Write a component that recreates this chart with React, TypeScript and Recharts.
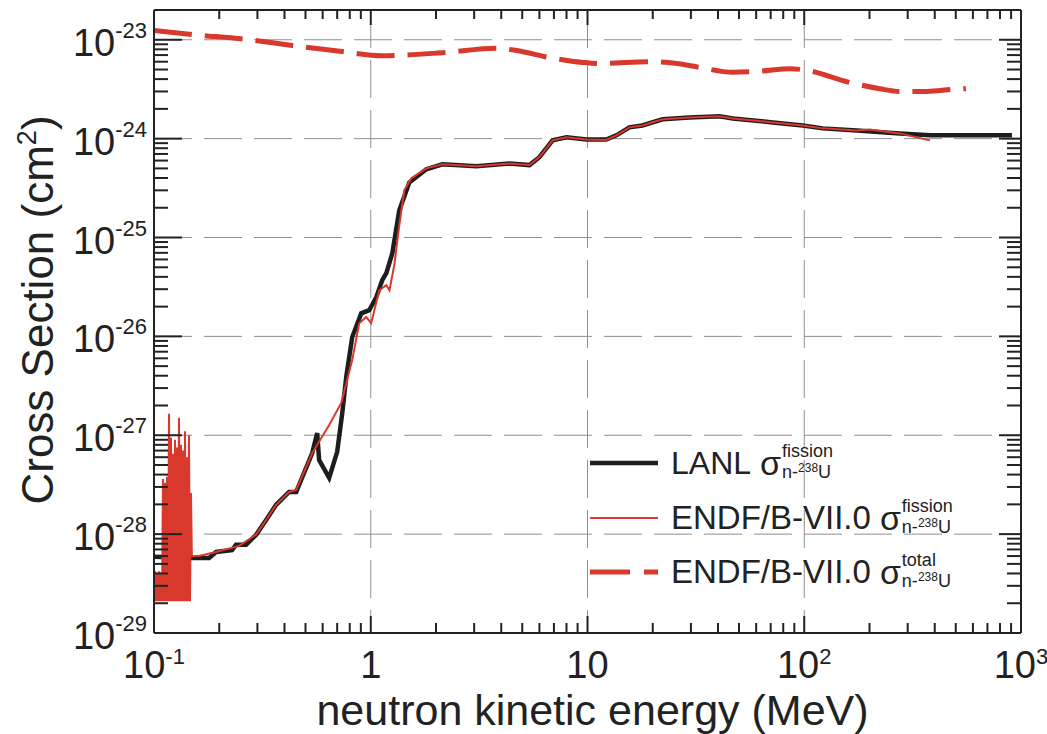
import { LineChart, Line, XAxis, YAxis, CartesianGrid, Legend } from 'recharts'

const FONT = '"Liberation Sans", Arial, Helvetica, sans-serif'
const RED = '#d8392c'
const BLACK = '#1d1d1d'
const INK = '#222'

// neutron energy in MeV, cross section in cm^2

// LANL fission
const lanlE = [
  0.1, 0.148, 0.1795, 0.1934, 0.229, 0.239, 0.266, 0.296, 0.329, 0.366, 0.42, 0.453, 0.537, 0.566, 0.578,
  0.643, 0.7, 0.739, 0.771, 0.821, 0.904, 0.984, 1.06, 1.13, 1.18, 1.257, 1.354, 1.506, 1.804, 2.14, 3.07,
  4.36, 5.4, 6.0, 6.9, 8.0, 9.9, 12.2, 13.6, 15.6, 17.9, 22.2, 29.6, 40.7, 46.8, 71.6, 98.5, 121.7, 175,
  276, 380, 908,
]
const lanlSigma = [
  5.9e-29, 5.75e-29, 5.75e-29, 6.6e-29, 6.9e-29, 7.8e-29, 7.8e-29, 9.85e-29, 1.39e-28, 1.98e-28, 2.67e-28,
  2.67e-28, 6.6e-28, 1.05e-27, 5.6e-28, 3.7e-28, 6.8e-28, 1.68e-27, 3.9e-27, 9.8e-27, 1.71e-26, 1.84e-26,
  2.49e-26, 3.7e-26, 4.36e-26, 6.9e-26, 1.88e-25, 3.6e-25, 4.9e-25, 5.5e-25, 5.25e-25, 5.6e-25, 5.4e-25,
  6.5e-25, 9.6e-25, 1.03e-24, 9.8e-25, 9.8e-25, 1.08e-24, 1.3e-24, 1.36e-24, 1.57e-24, 1.64e-24, 1.68e-24,
  1.6e-24, 1.46e-24, 1.36e-24, 1.27e-24, 1.21e-24, 1.13e-24, 1.08e-24, 1.08e-24,
]

// ENDF/B-VII.0 fission, resonance-like spikes just above 0.1 MeV
const endfLowE = [
  0.1, 0.1011, 0.1022, 0.1032, 0.1043, 0.1054, 0.1066, 0.1077, 0.1089, 0.11, 0.1112, 0.1124, 0.1136,
  0.1148, 0.116, 0.1173, 0.1185, 0.1198, 0.1211, 0.1224, 0.1237, 0.125, 0.1263, 0.1277, 0.129, 0.1304,
  0.1318, 0.1332, 0.1346, 0.1361, 0.1375, 0.139, 0.1405, 0.142, 0.1435, 0.145, 0.1466, 0.1481,
]
const endfLowSigma = [
  2.1e-29, 4.2e-29, 2.1e-29, 4.0e-29, 2.1e-29, 4.2e-29, 2.1e-29, 4.1e-29, 2.1e-29, 3.6e-28, 2.1e-29,
  3.3e-28, 2.1e-29, 3.8e-28, 2.1e-29, 1.65e-27, 2.1e-29, 9.5e-28, 2.1e-29, 6.5e-28, 2.1e-29, 9.0e-28,
  2.1e-29, 7.5e-28, 2.1e-29, 1.5e-27, 2.1e-29, 8.0e-28, 2.1e-29, 7.0e-28, 2.1e-29, 1.1e-27, 2.1e-29,
  6.0e-28, 2.1e-29, 1.0e-27, 2.1e-29, 2.6e-28,
]
const endfE = [
  0.1495, 0.161, 0.193, 0.247, 0.296, 0.329, 0.366, 0.42, 0.453, 0.537, 0.643, 0.731, 0.821, 0.885, 0.953,
  1.005, 1.095, 1.18, 1.22, 1.284, 1.354, 1.428, 1.538, 1.804, 2.14, 3.07, 4.36, 5.4, 6.0, 6.9, 8.0, 9.9,
  12.2, 13.6, 15.6, 17.9, 22.2, 29.6, 40.7, 46.8, 71.6, 98.5, 121.7, 175, 200, 276, 380,
]
const endfSigma = [
  6.0e-29, 6.0e-29, 6.6e-29, 7.6e-29, 9.9e-29, 1.39e-28, 1.98e-28, 2.67e-28, 2.8e-28, 6.6e-28, 1.27e-27,
  2.12e-27, 5.75e-27, 1.36e-26, 1.57e-26, 1.36e-26, 2.93e-26, 3.3e-26, 2.93e-26, 5.25e-26, 1.33e-25,
  3.0e-25, 3.97e-25, 5.0e-25, 5.5e-25, 5.25e-25, 5.6e-25, 5.4e-25, 6.5e-25, 9.6e-25, 1.03e-24, 9.8e-25,
  9.7e-25, 1.08e-24, 1.3e-24, 1.36e-24, 1.57e-24, 1.64e-24, 1.68e-24, 1.6e-24, 1.46e-24, 1.36e-24,
  1.27e-24, 1.21e-24, 1.24e-24, 1.13e-24, 9.6e-25,
]

// ENDF/B-VII.0 total
const totalE = [
  0.1, 0.15, 0.275, 0.434, 0.738, 1.13, 2.14, 3.8, 4.7, 6.7, 9.5, 11.4, 19.3, 25.8, 32.9, 46.7, 62, 86, 103,
  162, 223, 276, 368, 486, 557,
]
const totalSigma = [
  1.24e-23, 1.13e-23, 1.0e-23, 8.75e-24, 7.6e-24, 6.9e-24, 7.4e-24, 8.2e-24, 7.8e-24, 6.6e-24, 5.9e-24,
  5.75e-24, 6.0e-24, 5.75e-24, 5.25e-24, 4.7e-24, 4.8e-24, 5.1e-24, 4.9e-24, 3.7e-24, 3.2e-24, 3.0e-24,
  3.0e-24, 3.15e-24, 3.2e-24,
]

const xTicks = [0.1, 1, 10, 100, 1000]
const xTickBase = ['10', '1', '10', '10', '10']
const xTickExp = ['-1', '', '', '2', '3']
const yTicks = [1e-29, 1e-28, 1e-27, 1e-26, 1e-25, 1e-24, 1e-23]
const yTickExp = ['-29', '-28', '-27', '-26', '-25', '-24', '-23']
const minorMantissas = [2, 3, 4, 5, 6, 7, 8, 9]
const xMinor = xTicks.slice(0, -1).flatMap((d) => minorMantissas.map((m) => m * d))
const yMinor = yTicks.slice(0, -1).flatMap((d) => minorMantissas.map((m) => m * d))

const legendNames = ['LANL', 'ENDF/B-VII.0', 'ENDF/B-VII.0']
const legendSup = ['fission', 'fission', 'total']

const X_DOMAIN = [0.1, 1000]
const Y_DOMAIN = [1e-29, 2e-23]

const toPoints = (es: number[], ss: number[]) => es.map((e, i) => ({ e, s: ss[i] }))

const lanlData = toPoints(lanlE, lanlSigma)
const endfData = [...toPoints(endfLowE, endfLowSigma), ...toPoints(endfE, endfSigma)]
const totalData = toPoints(totalE, totalSigma)

// tick marks only, no label
const NoLabel = () => <g />

function XTick(props: any) {
  const { x, y, payload } = props
  const i = xTicks.indexOf(payload.value)
  return (
    <text x={x} y={y + 45} textAnchor="middle" fill={INK} fontFamily={FONT}>
      <tspan fontSize={38}>{xTickBase[i]}</tspan>
      {xTickExp[i] ? (
        <tspan fontSize={22} dy={-14}>
          {xTickExp[i]}
        </tspan>
      ) : null}
    </text>
  )
}

function YTick(props: any) {
  const { x, y, payload } = props
  const i = yTicks.indexOf(payload.value)
  return (
    <text x={x - 7} y={y + 16} textAnchor="end" fill={INK} fontFamily={FONT}>
      <tspan fontSize={38}>10</tspan>
      <tspan fontSize={22} dy={-18}>
        {yTickExp[i]}
      </tspan>
    </text>
  )
}

function XTitle(props: any) {
  const vb = props.viewBox || { x: 154, y: 633, width: 867, height: 101 }
  return (
    <text x={vb.x + vb.width / 2 + 5} y={vb.y + 92} textAnchor="middle" fill={INK} fontFamily={FONT} fontSize={43}>
      neutron kinetic energy (MeV)
    </text>
  )
}

function YTitle(props: any) {
  const vb = props.viewBox || { x: 0, y: 10, width: 154, height: 623 }
  const cx = vb.x + 53
  const cy = vb.y + 300
  return (
    <text transform={`rotate(-90, ${cx}, ${cy})`} x={cx} y={cy} textAnchor="middle" fill={INK} fontFamily={FONT} fontSize={44}>
      Cross Section (cm
      <tspan fontSize={27} dy={-17}>
        2
      </tspan>
      <tspan dy={17}>)</tspan>
    </text>
  )
}

function LegendBox() {
  const samples = [
    { stroke: BLACK, width: 4.5, dash: undefined },
    { stroke: RED, width: 2, dash: undefined },
    { stroke: RED, width: 5, dash: '40 14' },
  ]
  return (
    <div style={{ fontFamily: FONT, color: INK }}>
      {legendNames.map((name, i) => (
        <div key={i} style={{ display: 'flex', alignItems: 'center', height: 54.5 }}>
          <svg width={70} height={20} style={{ display: 'block' }}>
            <line x1={2} x2={70} y1={10} y2={10} stroke={samples[i].stroke} strokeWidth={samples[i].width} strokeDasharray={samples[i].dash} />
          </svg>
          <span style={{ marginLeft: 13, fontSize: i === 0 ? 32 : 33, whiteSpace: 'nowrap' }}>{name}</span>
          <span style={{ marginLeft: 9, fontSize: 34, lineHeight: '34px' }}>σ</span>
          <span style={{ display: 'inline-flex', flexDirection: 'column', fontSize: 18, lineHeight: '21px', marginLeft: 1 }}>
            <span>{legendSup[i]}</span>
            <span style={{ whiteSpace: 'nowrap' }}>
              n-<span style={{ fontSize: 12, position: 'relative', top: -6 }}>238</span>U
            </span>
          </span>
        </div>
      ))}
    </div>
  )
}

export default function App() {
  const frame = { stroke: INK, strokeWidth: 2 }
  const tickLine = { stroke: INK, strokeWidth: 2 }
  return (
    <div style={{ position: 'absolute', left: 0, top: 0, background: '#fff' }}>
      <LineChart width={1047} height={734} data={lanlData} margin={{ top: 10, right: 26, bottom: 0, left: 0 }}>
        <CartesianGrid xAxisId="x" yAxisId="y" stroke="#8f8f8f" strokeDasharray="38 12" strokeWidth={1} />
        <XAxis
          xAxisId="x"
          dataKey="e"
          type="number"
          scale="log"
          domain={X_DOMAIN}
          allowDataOverflow
          ticks={xTicks}
          interval={0}
          tick={<XTick />}
          tickLine={false}
          tickSize={0}
          tickMargin={0}
          axisLine={frame}
          height={101}
          label={<XTitle />}
        />
        <XAxis xAxisId="xMaj" dataKey="e" type="number" scale="log" domain={X_DOMAIN} allowDataOverflow ticks={xTicks} interval={0} mirror height={1} tick={<NoLabel />} axisLine={false} tickLine={tickLine} tickSize={17} />
        <XAxis xAxisId="xMin" dataKey="e" type="number" scale="log" domain={X_DOMAIN} allowDataOverflow ticks={xMinor} interval={0} mirror height={1} tick={<NoLabel />} axisLine={false} tickLine={tickLine} tickSize={9} />
        <XAxis xAxisId="xTop" dataKey="e" orientation="top" type="number" scale="log" domain={X_DOMAIN} allowDataOverflow ticks={xTicks} interval={0} mirror height={1} tick={<NoLabel />} axisLine={frame} tickLine={tickLine} tickSize={15} />
        <XAxis xAxisId="xTopMin" dataKey="e" orientation="top" type="number" scale="log" domain={X_DOMAIN} allowDataOverflow ticks={xMinor} interval={0} mirror height={1} tick={<NoLabel />} axisLine={false} tickLine={tickLine} tickSize={8} />
        <YAxis
          yAxisId="y"
          dataKey="s"
          type="number"
          scale="log"
          domain={Y_DOMAIN}
          allowDataOverflow
          ticks={yTicks}
          interval={0}
          tick={<YTick />}
          tickLine={false}
          tickSize={0}
          tickMargin={0}
          axisLine={frame}
          width={154}
          label={<YTitle />}
        />
        <YAxis yAxisId="yMaj" dataKey="s" type="number" scale="log" domain={Y_DOMAIN} allowDataOverflow ticks={yTicks} interval={0} mirror width={1} tick={<NoLabel />} axisLine={false} tickLine={tickLine} tickSize={28} />
        <YAxis yAxisId="yMin" dataKey="s" type="number" scale="log" domain={Y_DOMAIN} allowDataOverflow ticks={yMinor} interval={0} mirror width={1} tick={<NoLabel />} axisLine={false} tickLine={tickLine} tickSize={13} />
        <YAxis yAxisId="yR" dataKey="s" orientation="right" type="number" scale="log" domain={Y_DOMAIN} allowDataOverflow ticks={yTicks} interval={0} mirror width={1} tick={<NoLabel />} axisLine={frame} tickLine={tickLine} tickSize={22} />
        <YAxis yAxisId="yRMin" dataKey="s" orientation="right" type="number" scale="log" domain={Y_DOMAIN} allowDataOverflow ticks={yMinor} interval={0} mirror width={1} tick={<NoLabel />} axisLine={false} tickLine={tickLine} tickSize={13} />
        <Legend
          content={<LegendBox />}
          layout="vertical"
          verticalAlign="middle"
          align="center"
          wrapperStyle={{ left: 588, top: 436, width: 450, height: 164 }}
        />
        <Line
          xAxisId="x"
          yAxisId="y"
          data={lanlData}
          dataKey="s"
          name="LANL fission"
          type="linear"
          stroke={BLACK}
          strokeWidth={4.5}
          dot={false}
          activeDot={false}
          isAnimationActive={false}
        />
        <Line
          xAxisId="x"
          yAxisId="y"
          data={endfData}
          dataKey="s"
          name="ENDF/B-VII.0 fission"
          type="linear"
          stroke={RED}
          strokeWidth={2}
          dot={false}
          activeDot={false}
          isAnimationActive={false}
        />
        <Line
          xAxisId="x"
          yAxisId="y"
          data={totalData}
          dataKey="s"
          name="ENDF/B-VII.0 total"
          type="monotone"
          stroke={RED}
          strokeWidth={5}
          strokeDasharray="38 13"
          dot={false}
          activeDot={false}
          isAnimationActive={false}
        />
      </LineChart>
    </div>
  )
}
